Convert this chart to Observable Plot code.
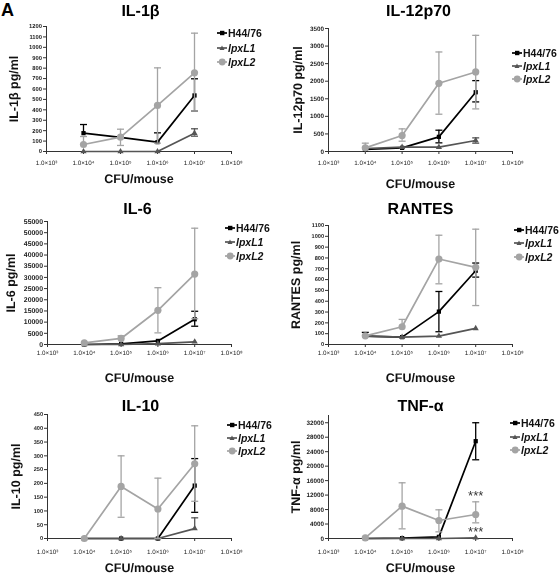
<!DOCTYPE html>
<html><head><meta charset="utf-8">
<script src="https://cdn.jsdelivr.net/npm/d3@7"></script>
<script src="https://cdn.jsdelivr.net/npm/@observablehq/plot@0.6"></script>
<style>
body{margin:0;background:#fff;}
#root{position:relative;width:560px;height:575px;overflow:hidden;font-family:"Liberation Sans",Arial,sans-serif;background:#fff;}
.panel{position:absolute;width:280px;}
.panel > svg{position:absolute;left:0;top:0;overflow:visible;will-change:transform;text-rendering:geometricPrecision}
.leg{position:absolute;font-size:10.5px;font-weight:bold;color:#111;white-space:nowrap;height:13px;line-height:13px}
.leg svg{vertical-align:middle;margin-right:1px;position:relative;top:-1px}
.tag{position:absolute;left:1px;top:0px;font-size:18px;line-height:20px;font-weight:bold;color:#000}
</style></head><body><div id="root"><div class="tag">A</div></div>
<script>
// ---------- data ----------
const doses = [1e4, 1e5, 1e6, 1e7];
const seriesNames = ["H44/76", "lpxL1", "lpxL2"];
const xTicks = [1e3, 1e4, 1e5, 1e6, 1e7, 1e8];
const xTickLabels = ["1.0×10³", "1.0×10⁴", "1.0×10⁵", "1.0×10⁶", "1.0×10⁷", "1.0×10⁸"];
const xLabel = "CFU/mouse";

// rows: H44/76, lpxL1, lpxL2 ; columns: doses
const il1bMean = [[176, 135, 90, 538], [0, 0, 0, 176], [67, 138, 442, 755]];
const il1bLo   = [[null, null, null, 387], [null, null, null, 147], [null, 58, 80, 387]];
const il1bHi   = [[259, null, 179, 698], [null, null, null, 218], [144, 214, 803, 1136]];

const il12Mean = [[57, 104, 417, 1686], [85, 123, 123, 312], [104, 455, 1941, 2263]];
const il12Lo   = [[null, null, 246, 1411], [null, null, null, 237], [null, 293, 1061, 1212]];
const il12Hi   = [[null, null, 606, 2017], [null, null, null, 388], [237, 644, 2832, 3305]];

const il6Mean = [[0, 300, 1600, 11300], [0, 0, 400, 1200], [700, 2700, 15300, 31500]];
const il6Lo   = [[null, null, null, 8170], [null, null, null, null], [null, null, 5200, 11500]];
const il6Hi   = [[null, null, null, 14860], [null, null, null, null], [null, 3900, 25400, 52000]];

const rantesMean = [[78, 68, 304, 682], [78, 68, 78, 149], [80, 164, 790, 713]];
const rantesLo   = [[null, null, 118, 623], [null, null, null, null], [null, null, 561, 360]];
const rantesHi   = [[112, null, 490, 753], [null, null, null, null], [null, 232, 1010, 1066]];

const il10Mean = [[0, 0, 0, 192], [0, 0, 0, 36], [0, 189, 107, 271]];
const il10Lo   = [[null, null, null, 95], [null, null, null, null], [null, 77, 0, 135]];
const il10Hi   = [[null, null, null, 290], [null, null, null, 75], [null, 300, 219, 409]];

const tnfMean = [[0, 100, 460, 26900], [0, 0, 0, 200], [200, 8940, 4980, 6640]];
const tnfLo   = [[null, null, null, 21760], [null, null, null, null], [null, 2670, 1840, 4330]];
const tnfHi   = [[null, null, null, 32000], [null, null, null, null], [null, 15400, 7930, 10140]];

const tnfStarDose = [1e7, 1e7];
const tnfStarValue = [12800, 2860];
const tnfStarText = ["***", "***"];

// ---------- styles ----------
const seriesStyle = [
  {color: "#000000", symbol: "square", r: 2.4, italic: false},
  {color: "#555555", symbol: "triangle", r: 2.3, italic: true},
  {color: "#a4a4a4", symbol: "circle", r: 3.6, italic: true}
];

// ---------- layout per panel ----------
const panels = [
  {title: "IL-1β", ylabel: "IL-1β pg/ml", mean: il1bMean, lo: il1bLo, hi: il1bHi, yMax: 1200, yStep: 100, yTop: 1200,
   left: 0, top: 0, h: 190, ml: 46, xr: 231, yt: 26, yb: 151, yFont: 5.8, xPad: 6, titleY: 10, titleX: 140, ylabelX: 13, cfuY: 178,
   legX: 217, legY: [33, 48, 62]},
  {title: "IL-12p70", ylabel: "IL-12p70 pg/ml", mean: il12Mean, lo: il12Lo, hi: il12Hi, yMax: 3500, yStep: 500, yTop: 3500,
   left: 280, top: 0, h: 190, ml: 48, xr: 232, yt: 28, yb: 151, yFont: 6.3, xPad: 6, titleY: 10, titleX: 138, ylabelX: 17, cfuY: 183,
   legX: 232, legY: [53, 66, 79]},
  {title: "IL-6", ylabel: "IL-6 pg/ml", mean: il6Mean, lo: il6Lo, hi: il6Hi, yMax: 55000, yStep: 5000, yTop: 55000,
   left: 0, top: 190, h: 190, ml: 47, xr: 231, yt: 31, yb: 154, yFont: 6.9, xPad: 3.5, titleY: 18, titleX: 137, ylabelX: 10, cfuY: 187,
   legX: 225, legY: [38, 52, 66]},
  {title: "RANTES", ylabel: "RANTES pg/ml", mean: rantesMean, lo: rantesLo, hi: rantesHi, yMax: 1100, yStep: 100, yTop: 1100,
   left: 280, top: 190, h: 190, ml: 48, xr: 232, yt: 35, yb: 154, yFont: 5.6, xPad: 3, titleY: 18, titleX: 140, ylabelX: 15, cfuY: 187,
   legX: 234, legY: [40, 53, 67]},
  {title: "IL-10", ylabel: "IL-10 pg/ml", mean: il10Mean, lo: il10Lo, hi: il10Hi, yMax: 450, yStep: 50, yTop: 450,
   left: 0, top: 380, h: 195, ml: 47, xr: 231, yt: 34, yb: 158, yFont: 5.6, xPad: 8.5, titleY: 25, titleX: 140, ylabelX: 15, cfuY: 187,
   legX: 227, legY: [45, 58, 71]},
  {title: "TNF-α", ylabel: "TNF-α pg/ml", mean: tnfMean, lo: tnfLo, hi: tnfHi, yMax: 34000, yStep: 4000, yTop: 32000,
   left: 280, top: 380, h: 195, ml: 48, xr: 232, yt: 35, yb: 158, yFont: 6.3, xPad: 8.5, titleY: 25, titleX: 140, ylabelX: 15, cfuY: 187,
   legX: 230, legY: [43, 57, 70],
   stars: {dose: tnfStarDose, value: tnfStarValue, text: tnfStarText}}
];

const capSymbol = {draw(ctx) { ctx.moveTo(-3.5, 0); ctx.lineTo(3.5, 0); }};
const FONT = "Liberation Sans, Arial, Helvetica, sans-serif";
const yFmt = d3.format("d");

function makeRows(p, s) {
  return doses.map((d, j) => ({dose: d, value: p.mean[s][j], lo: p.lo[s][j], hi: p.hi[s][j]}));
}

const root = document.getElementById("root");

panels.forEach(p => {
  const W = 280;
  const frameCx = (p.ml + p.xr) / 2;
  const yTicks = d3.range(0, p.yTop + p.yStep / 2, p.yStep);
  const marks = [
    Plot.axisY({ticks: yTicks, tickFormat: yFmt, tickSize: 3, tickPadding: 1.5, fontSize: p.yFont, fontWeight: "bold", label: null, fill: "#222", stroke: "#333"}),
    Plot.axisX({ticks: xTicks, tickFormat: d => xTickLabels[Math.round(Math.log10(d)) - 3], tickSize: 3, tickPadding: p.xPad, fontSize: 6.3, label: null, fill: "#222", stroke: "#333"}),
    Plot.ruleX([xTicks[0]], {stroke: "#333", strokeWidth: 1}),
    Plot.ruleY([0], {stroke: "#333", strokeWidth: 1})
  ];
  [0, 1, 2].forEach(s => {
    const st = seriesStyle[s];
    const rows = makeRows(p, s);
    const errRows = rows.filter(r => r.lo != null || r.hi != null)
      .map(r => ({dose: r.dose, y1: r.lo != null ? r.lo : r.value, y2: r.hi != null ? r.hi : r.value}));
    const caps = [];
    rows.forEach(r => {
      if (r.lo != null) caps.push({dose: r.dose, y: r.lo});
      if (r.hi != null) caps.push({dose: r.dose, y: r.hi});
    });
    marks.push(
      Plot.ruleX(errRows, {x: "dose", y1: "y1", y2: "y2", stroke: st.color, strokeWidth: 1.3}),
      Plot.dot(caps, {x: "dose", y: "y", symbol: capSymbol, r: 3, fill: "none", stroke: st.color, strokeWidth: 1.3}),
      Plot.line(rows, {x: "dose", y: "value", stroke: st.color, strokeWidth: 1.7}),
      Plot.dot(rows, {x: "dose", y: "value", symbol: st.symbol, r: st.r, fill: st.color, stroke: "none"})
    );
  });
  if (p.stars) {
    const starRows = p.stars.dose.map((d, i) => ({dose: d, value: p.stars.value[i], text: p.stars.text[i]}));
    marks.push(Plot.text(starRows, {x: "dose", y: "value", text: "text", fontSize: 13, fill: "#333", dy: 4}));
  }
  marks.push(
    Plot.text([p.title], {text: d => d, frameAnchor: "top", textAnchor: "middle", lineAnchor: "middle", dy: p.titleY - p.yt, dx: p.titleX - frameCx, fontSize: 16, fontWeight: "bold", fill: "#000"}),
    Plot.text([xLabel], {text: d => d, frameAnchor: "bottom", textAnchor: "middle", lineAnchor: "middle", dy: p.cfuY - p.yb, fontSize: 12.5, fontWeight: "bold", fill: "#111"}),
    Plot.text([p.ylabel], {text: d => d, frameAnchor: "left", textAnchor: "middle", lineAnchor: "middle", rotate: -90, dx: p.ylabelX - p.ml, fontSize: 12.5, fontWeight: "bold", fill: "#111"})
  );

  const chart = Plot.plot({
    width: W, height: p.h,
    marginLeft: p.ml, marginRight: W - p.xr, marginTop: p.yt, marginBottom: p.h - p.yb,
    style: {fontFamily: FONT, background: "transparent", overflow: "visible", color: "#222"},
    x: {type: "log", domain: [xTicks[0], xTicks[xTicks.length - 1]]},
    y: {domain: [0, p.yMax]},
    marks
  });

  const div = document.createElement("div");
  div.className = "panel";
  div.style.left = p.left + "px";
  div.style.top = p.top + "px";
  div.style.height = p.h + "px";
  div.appendChild(chart);

  seriesNames.forEach((name, s) => {
    const st = seriesStyle[s];
    const item = document.createElement("div");
    item.className = "leg";
    item.style.left = p.legX + "px";
    item.style.top = (p.legY[s] - 6.5) + "px";
    let shape;
    if (st.symbol === "square") shape = `<rect x="3" y="2.8" width="4.4" height="4.4" fill="${st.color}"/>`;
    else if (st.symbol === "triangle") shape = `<path d="M5,2.5 L7.5,7 L2.5,7 Z" fill="${st.color}"/>`;
    else shape = `<circle cx="5.2" cy="5" r="3.4" fill="${st.color}"/>`;
    item.innerHTML = `<svg width="10" height="10" viewBox="0 0 10 10"><line x1="0" y1="5" x2="10" y2="5" stroke="${st.color}" stroke-width="1.7"/>${shape}</svg>` +
      `<span style="font-style:${st.italic ? "italic" : "normal"}">${name}</span>`;
    div.appendChild(item);
  });

  root.appendChild(div);
});
</script>
</body></html>
